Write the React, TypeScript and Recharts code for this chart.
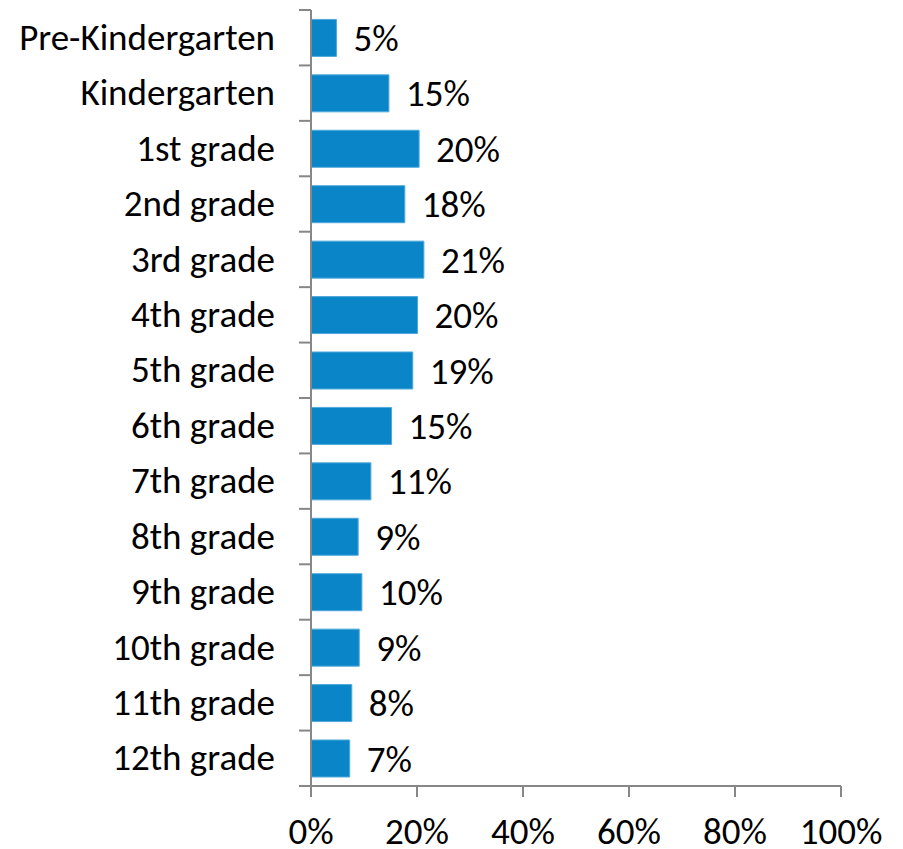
import React from "react";
import { BarChart, Bar, XAxis, YAxis, LabelList } from "recharts";

const categories = [
  "Pre-Kindergarten", "Kindergarten", "1st grade", "2nd grade", "3rd grade", "4th grade",
  "5th grade", "6th grade", "7th grade", "8th grade", "9th grade", "10th grade",
  "11th grade", "12th grade",
];
const shares = [4.8, 14.7, 20.4, 17.7, 21.3, 20.1, 19.2, 15.2, 11.3, 8.9, 9.6, 9.1, 7.7, 7.3];
const labels = ["5%", "15%", "20%", "18%", "21%", "20%", "19%", "15%", "11%", "9%", "10%", "9%", "8%", "7%"];
const xTicks = [0, 20, 40, 60, 80, 100];

const data = categories.map((c, i) => ({ name: c, value: shares[i], label: labels[i] }));

const W = 895;
const H = 841;
const MARGIN = { top: 2, right: 62, bottom: 13, left: 0 };
const Y_W = 303;
const X_H = 50;
const PLOT_H = H - MARGIN.top - MARGIN.bottom - X_H;
const BAND = PLOT_H / categories.length;
const FONT = "Carlito, Lato, sans-serif";
const FS = 37;
const AXIS = "#878787";

const YTick = (props: any) => {
  const { x, y, payload, index } = props;
  const ax = x + 24; // axis position relative to label anchor
  return (
    <g>
      <line x1={ax} x2={ax + 12} y1={y - BAND / 2} y2={y - BAND / 2} stroke={AXIS} strokeWidth={2} />
      {index === categories.length - 1 ? (
        <line x1={ax} x2={ax + 12} y1={y + BAND / 2} y2={y + BAND / 2} stroke={AXIS} strokeWidth={2} />
      ) : null}
      <text x={x} y={y} dy="0.33em" textAnchor="end" fill="#000" fontSize={FS} fontFamily={FONT}>
        {payload.value}
      </text>
    </g>
  );
};

export default function App() {
  return (
    <div style={{ width: W, height: H, background: "#fff" }}>
      <BarChart width={W} height={H} data={data} layout="vertical" margin={MARGIN} barCategoryGap="17%">
        <XAxis
          type="number"
          domain={[0, 100]}
          ticks={xTicks}
          tickFormatter={(v: number) => `${v}%`}
          height={X_H}
          axisLine={{ stroke: AXIS, strokeWidth: 2 }}
          tickLine={{ stroke: AXIS, strokeWidth: 2 }}
          tickSize={11}
          tickMargin={21}
          tick={{ fill: "#000", fontSize: FS, fontFamily: FONT }}
          interval={0}
        />
        <YAxis
          type="category"
          dataKey="name"
          width={Y_W}
          axisLine={{ stroke: AXIS, strokeWidth: 2 }}
          tickLine={false}
          tickSize={12}
          tickMargin={24}
          tick={<YTick />}
          interval={0}
        />
        <Bar dataKey="value" fill="#0A86C8" stroke="#4FA8DB" strokeWidth={1} isAnimationActive={false}>
          <LabelList dataKey="label" position="right" offset={17} fill="#000" fontSize={FS} fontFamily={FONT} />
        </Bar>
      </BarChart>
    </div>
  );
}
